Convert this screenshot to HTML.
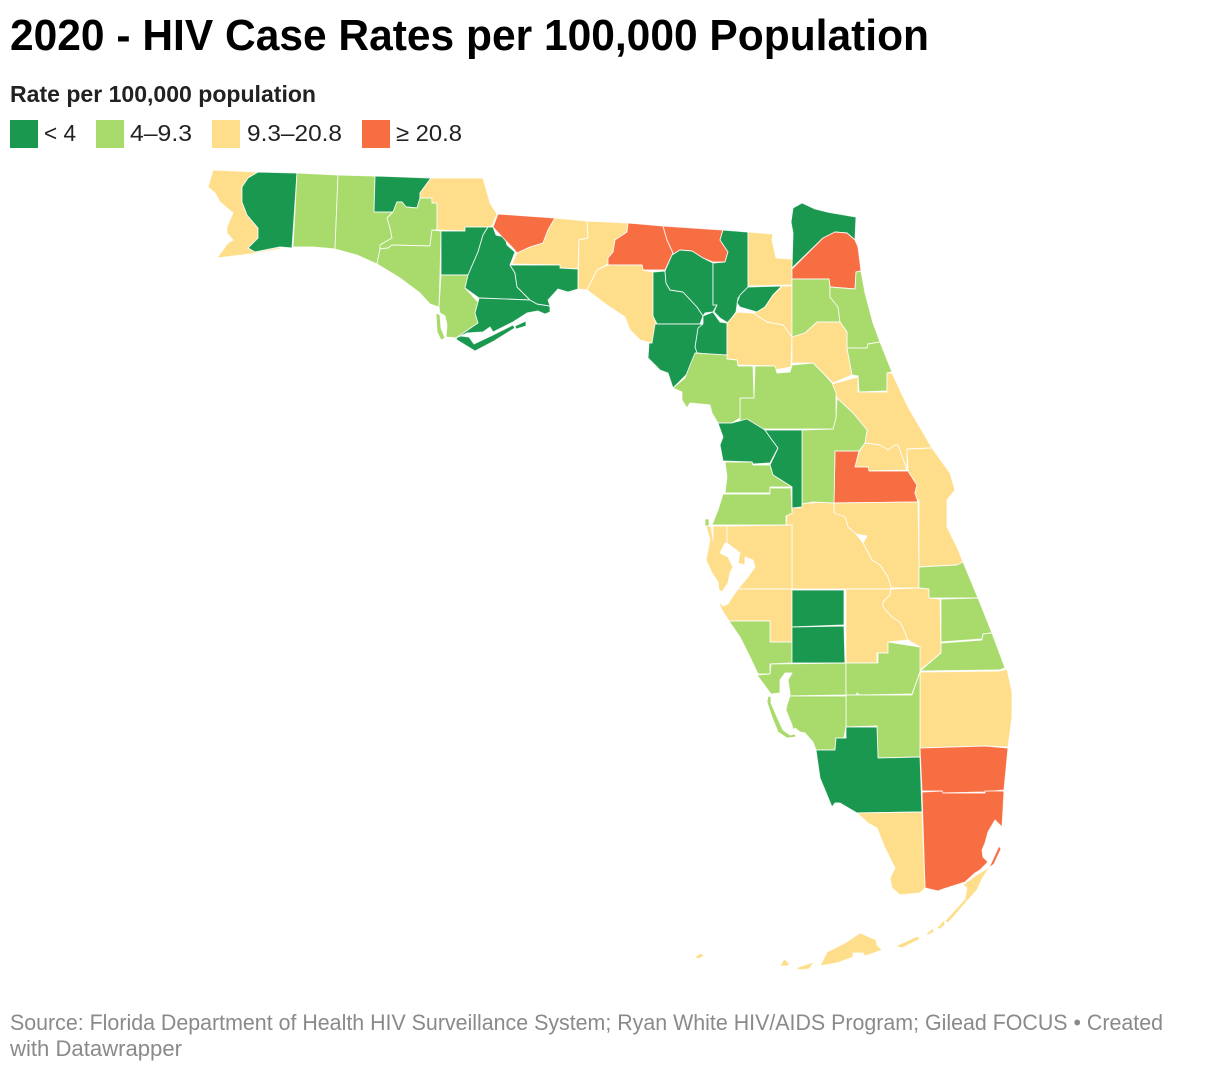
<!DOCTYPE html>
<html lang="en">
<head>
<meta charset="utf-8">
<title>2020 - HIV Case Rates per 100,000 Population</title>
<style>
html,body{margin:0;padding:0;background:#fff;width:1220px;height:1074px;overflow:hidden}
svg{display:block;font-family:"Liberation Sans",sans-serif}
</style>
</head>
<body>
<svg id="chart" width="1220" height="1074" viewBox="0 0 1220 1074" xmlns="http://www.w3.org/2000/svg">
  <text x="10" y="50" font-size="44" font-weight="700" fill="#000" textLength="919" lengthAdjust="spacingAndGlyphs">2020 - HIV Case Rates per 100,000 Population</text>
  <text x="10" y="102" font-size="23" font-weight="700" fill="#222" textLength="306" lengthAdjust="spacingAndGlyphs">Rate per 100,000 population</text>
  <g id="legend">
    <rect x="10" y="120" width="28" height="28" fill="#1a9850"/>
    <text x="44" y="141" font-size="23" fill="#222" textLength="32" lengthAdjust="spacingAndGlyphs">&lt; 4</text>
    <rect x="96" y="120" width="28" height="28" fill="#a9da6c"/>
    <text x="130" y="141" font-size="23" fill="#222" textLength="62" lengthAdjust="spacingAndGlyphs">4–9.3</text>
    <rect x="212" y="120" width="28" height="28" fill="#fede8a"/>
    <text x="247" y="141" font-size="23" fill="#222" textLength="95" lengthAdjust="spacingAndGlyphs">9.3–20.8</text>
    <rect x="362" y="120" width="28" height="28" fill="#f76e43"/>
    <text x="396" y="141" font-size="23" fill="#222" textLength="66" lengthAdjust="spacingAndGlyphs">≥ 20.8</text>
  </g>
  <g id="map"></g>
  <text x="10" y="1030" font-size="22" fill="#8a8a8a" textLength="1153" lengthAdjust="spacingAndGlyphs">Source: Florida Department of Health HIV Surveillance System; Ryan White HIV/AIDS Program; Gilead FOCUS • Created</text>
  <text x="10" y="1056" font-size="22" fill="#8a8a8a" textLength="172" lengthAdjust="spacingAndGlyphs">with Datawrapper</text>
</svg>
<script>
const binThresholds = [4, 9.3, 20.8];
const binColors = ["#1a9850", "#a9da6c", "#fede8a", "#f76e43"];

const countyNames = ["Escambia","Santa Rosa","Okaloosa","Walton","Holmes","Washington","Bay","Jackson","Calhoun","Gulf","Liberty","Franklin","Gadsden","Leon","Wakulla","Jefferson","Madison","Hamilton","Taylor","Lafayette","Suwannee","Columbia","Gilchrist","Dixie","Baker","Union","Bradford","Alachua","Nassau","Duval","Clay","St Johns","Putnam","Flagler","Volusia","Seminole","Orange","Brevard","Osceola","Polk","Lake","Marion","Levy","Citrus","Sumter","Hernando","Pasco","Pinellas","Hillsborough","Manatee","Sarasota","Hardee","DeSoto","Highlands","Okeechobee","Indian River","St Lucie","Martin","Palm Beach","Charlotte","Glades","Hendry","Lee","Collier","Broward","Miami-Dade","Monroe"];

const countyRates = [15,3,8,7,2,6,9,11,2,8,1,3,24,18,3,12,26,23,14,2,3,3,2,3,13,2,14,16,3,25,8,6,17,7,12,15,27,11,16,14,8,9,7,3,3,8,8,13,19,13,8,2,3,12,14,9,9,7,17,8,6,7,9,3,33,30,12];

const countyOutlines = {
"Escambia":"213,170 258,172 248,178 242,187 242,202 247,215 258,228 258,238 248,248 255,252 280,247 280,249 250,254 217,258 228,243 233,240 227,233 227,227 233,213 220,202 215,193 208,187",
"Santa Rosa":"258,172 297,173 292,248 280,247 255,252 248,248 258,238 258,228 247,215 242,202 242,187 248,178",
"Okaloosa":"297,173 338,175 335,249 313,247 293,247",
"Walton":"338,175 375,176 374,212 393,212 387,218 390,228 392,238 380,245 380,249 377,264 357,255 335,249",
"Holmes":"375,176 431,178 420,193 420,198 417,208 406,207 402,202 397,202 393,212 374,212",
"Washington":"393,212 397,202 402,202 406,207 417,208 420,198 432,198 432,203 437,203 437,230 432,230 430,246 392,245 388,248 380,249 380,245 392,238 390,228 387,218",
"Bay":"392,245 430,246 432,230 441,231 440,275 439,307 430,304 420,293 400,278 377,264 380,249 388,248",
"Jackson":"431,178 483,178 490,203 497,214 492,226 488,227 465,227 465,231 437,230 437,203 432,203 432,198 420,198 420,193",
"Calhoun":"441,231 465,231 465,227 488,227 483,235 478,252 468,275 441,275",
"Gulf":"441,275 468,275 465,288 478,302 475,313 478,323 456,338 446,337 447,325 445,316 440,313 439,307|436,313 440,315 441,328 445,338 441,340 437,332",
"Liberty":"488,227 493,227 496,235 505,237 507,245 515,252 510,265 515,273 517,287 530,300 479,298 465,288 468,275 478,252 483,235",
"Franklin":"479,298 530,300 537,304 550,306 550,312 545,314 538,311 527,313 513,322 493,332 490,327 483,332 467,333 456,338 478,323 475,313 478,302|456,338 461,336 469,337 474,344 493,335 513,325 515,328 494,341 475,351 457,340|515,326 526,321 526,326 516,329",
"Gadsden":"498,214 555,218 548,230 543,243 530,247 517,253 513,248 505,240 493,227",
"Leon":"555,218 587,221 588,238 579,240 578,269 560,268 560,265 512,264 517,253 530,247 543,243 548,230",
"Wakulla":"510,265 560,265 560,268 578,269 578,289 568,292 558,289 548,300 550,306 537,304 530,300 517,287 515,273",
"Jefferson":"587,221 628,223 627,232 615,240 613,252 608,258 608,264 597,270 587,290 578,289 579,240 588,238",
"Madison":"628,223 663,226 667,240 673,253 672,255 665,270 643,270 642,265 608,265 608,258 613,252 615,240 627,232",
"Hamilton":"663,226 723,230 720,240 728,252 725,262 713,262 703,258 692,251 680,250 672,255 673,253 667,240",
"Taylor":"608,265 642,265 643,270 653,272 653,316 657,325 652,343 640,340 630,330 625,317 607,305 587,290 597,270",
"Lafayette":"653,272 665,271 666,283 670,290 683,292 697,307 703,316 700,324 657,324 653,316",
"Suwannee":"672,255 680,250 692,251 703,258 713,263 713,305 717,305 713,312 705,313 703,316 697,307 683,292 670,290 666,283 665,271",
"Columbia":"723,230 748,232 748,288 738,298 737,305 736,312 728,323 720,318 714,312 717,305 713,305 713,263 725,262 728,252 720,240",
"Gilchrist":"703,316 713,312 720,322 727,323 727,355 716,355 697,353 695,347 698,327 703,323",
"Dixie":"655,324 703,324 698,328 695,347 697,353 692,363 688,373 673,388 668,373 660,370 648,358 649,343 652,343",
"Baker":"748,232 773,234 772,240 776,258 792,259 792,285 748,286",
"Union":"748,287 782,286 773,295 765,307 757,312 740,307 737,303 740,295",
"Bradford":"782,286 792,286 792,337 783,325 767,322 753,313 757,312 765,307 773,295",
"Alachua":"727,323 737,312 753,313 767,322 783,325 792,337 791,367 775,370 773,366 738,365 737,360 727,359",
"Nassau":"793,208 802,203 815,209 827,212 856,217 855,240 847,233 835,232 823,238 792,268 793,233 791,222",
"Duval":"792,269 823,238 835,232 847,233 855,240 858,247 861,271 856,272 855,289 830,287 829,279 792,279",
"Clay":"792,279 829,279 830,287 830,297 838,307 840,322 817,322 805,333 792,337",
"St Johns":"830,287 855,289 856,272 861,271 865,293 873,323 880,342 868,344 867,348 847,348 847,332 840,322 838,307 830,297",
"Putnam":"792,337 805,333 817,322 840,322 847,332 847,348 852,375 833,383 822,372 813,363 792,363",
"Flagler":"847,348 867,348 868,344 880,342 892,372 887,373 887,391 859,392 858,376 852,375",
"Volusia":"832,384 858,377 858,392 887,392 887,373 892,373 908,407 932,448 907,449 907,470 898,445 895,445 888,450 880,445 865,443 867,430 853,413 837,398",
"Seminole":"865,443 880,445 888,450 895,445 898,445 907,470 869,471 868,467 855,467 859,452",
"Orange":"835,451 859,451 855,467 868,467 869,471 908,471 917,485 915,493 918,502 834,503",
"Brevard":"907,449 932,448 950,473 955,490 947,500 947,527 957,547 963,562 957,565 919,567 919,500 918,502 915,493 917,485 908,471",
"Osceola":"834,503 918,502 919,567 919,588 890,588 891,587 888,577 880,565 872,560 863,543 867,536 856,534 848,527 845,517 834,513",
"Polk":"834,503 834,513 845,517 848,527 856,534 863,543 872,560 880,565 888,577 891,587 891,589 792,589 792,525 786,525 787,515 792,513 792,507 800,508 803,503 812,503 818,502",
"Lake":"837,398 853,413 867,430 865,443 859,451 835,451 834,503 813,502 802,504 802,430 833,429 836,418",
"Marion":"755,366 775,366 777,373 790,372 792,365 813,363 823,373 832,383 836,393 836,418 833,429 740,429 740,398 754,398",
"Levy":"695,353 727,355 727,359 737,360 738,366 753,366 754,398 740,398 740,418 732,423 718,423 712,413 710,405 690,403 687,408 682,400 682,392 673,388 685,378 690,365",
"Citrus":"718,423 732,423 747,419 765,430 772,440 778,448 770,463 753,464 752,462 723,461 720,445 723,437",
"Sumter":"765,430 802,430 802,507 792,508 792,487 773,475 770,465 778,448 772,440",
"Hernando":"725,462 752,462 753,465 770,465 773,475 792,487 770,487 770,493 725,493 727,477",
"Pasco":"723,494 770,494 770,488 791,488 792,513 786,516 786,525 712,525 718,510|705,519 709,519 709,526 705,526",
"Pinellas":"706,526 711,526 713,540 713,526 727,526 727,543 725,543 720,553 728,557 733,567 730,573 728,583 722,592 719,590 718,582 712,573 706,560 710,540",
"Hillsborough":"727,526 792,525 792,589 738,589 748,577 755,567 753,560 745,557 745,565 738,563 740,553 727,543",
"Manatee":"738,589 792,589 792,642 770,642 770,621 729,621 722,610 718,601 723,606 728,604 733,596",
"Sarasota":"729,621 770,621 770,642 792,642 792,663 770,664 770,674 758,674 750,657 740,637",
"Hardee":"792,590 844,590 844,625 792,627",
"DeSoto":"792,627 844,626 845,663 792,663",
"Highlands":"846,589 891,589 890,595 883,602 883,607 892,617 900,622 903,628 908,640 888,642 888,653 877,653 877,663 846,663",
"Okeechobee":"891,589 919,588 929,589 929,598 940,599 941,653 919,671 920,647 908,640 903,628 900,622 892,617 883,607 883,602 890,595",
"Indian River":"919,567 957,565 963,562 978,598 929,598 929,589 919,588",
"St Lucie":"941,599 978,598 992,633 983,634 982,639 941,642",
"Martin":"941,643 982,640 983,634 992,633 1005,668 999,670 920,671 941,653",
"Palm Beach":"920,672 1000,671 1007,669 1012,692 1012,717 1008,747 985,746 920,748",
"Charlotte":"771,664 846,663 846,695 790,696 790,693 788,680 792,673 785,673 780,680 780,693 771,694 757,675 770,674",
"Glades":"846,663 878,663 878,653 888,653 888,642 920,647 920,672 912,694 860,695 857,693 856,695 846,695",
"Hendry":"846,695 912,695 920,672 920,757 878,758 877,726 846,727",
"Lee":"790,696 846,696 846,726 844,738 836,738 835,750 816,750 813,742 805,733 800,732 795,728 793,730 792,725 786,710 787,705|768,696 771,697 771,703 777,717 783,730 790,735 795,734 796,737 787,738 778,732 772,717 767,702",
"Collier":"816,750 835,750 836,738 846,738 846,727 877,727 878,758 920,757 922,812 857,813 840,803 835,803 832,807 825,790 820,778",
"Broward":"920,748 985,746 1008,748 1004,790 985,792 943,793 942,791 922,791",
"Miami-Dade":"922,792 942,791 943,793 985,793 985,791 1004,791 1003,810 1002,827 995,820 988,832 985,843 982,850 983,857 988,862 980,870 975,873 965,882 943,889 938,891 925,888|999,846 989,868 994,864 1001,849",
"Monroe":"857,813 922,812 925,888 920,893 900,895 892,888 890,878 895,868 885,848 877,828 868,823|963,885 975,876 990,867 983,877 977,890 968,900 948,923 945,921 965,899 967,888|937,928 944,920 945,925 940,929|926,934 933,928 934,932 928,935|896,946 918,936 920,939 902,948|820,966 827,952 845,943 860,933 876,940 877,945 882,950 865,956 863,953 853,953 853,957 837,963|796,968 814,962 809,969 800,970|780,966 784,959 789,963 788,966|695,957 701,953 704,956 698,959"
};

function colorForRate(rate) {
  let i = 0;
  while (i < binThresholds.length && rate >= binThresholds[i]) i++;
  return binColors[i];
}
function outlineToPath(outline) {
  return outline.split("|").map(function (ring) {
    return "M" + ring.trim().split(" ").join("L") + "Z";
  }).join("");
}

const mapGroup = document.getElementById("map");
countyNames.forEach(function (name, i) {
  const el = document.createElementNS("http://www.w3.org/2000/svg", "path");
  el.setAttribute("d", outlineToPath(countyOutlines[name]));
  el.setAttribute("fill", colorForRate(countyRates[i]));
  el.setAttribute("stroke", "#ffffff");
  el.setAttribute("stroke-width", "0.9");
  el.setAttribute("stroke-opacity", "0.85");
  el.setAttribute("stroke-linejoin", "round");
  
  
  const tip = document.createElementNS("http://www.w3.org/2000/svg", "title");
  tip.textContent = name + " County: " + countyRates[i];
  el.appendChild(tip);
  mapGroup.appendChild(el);
});
</script>
</body>
</html>
